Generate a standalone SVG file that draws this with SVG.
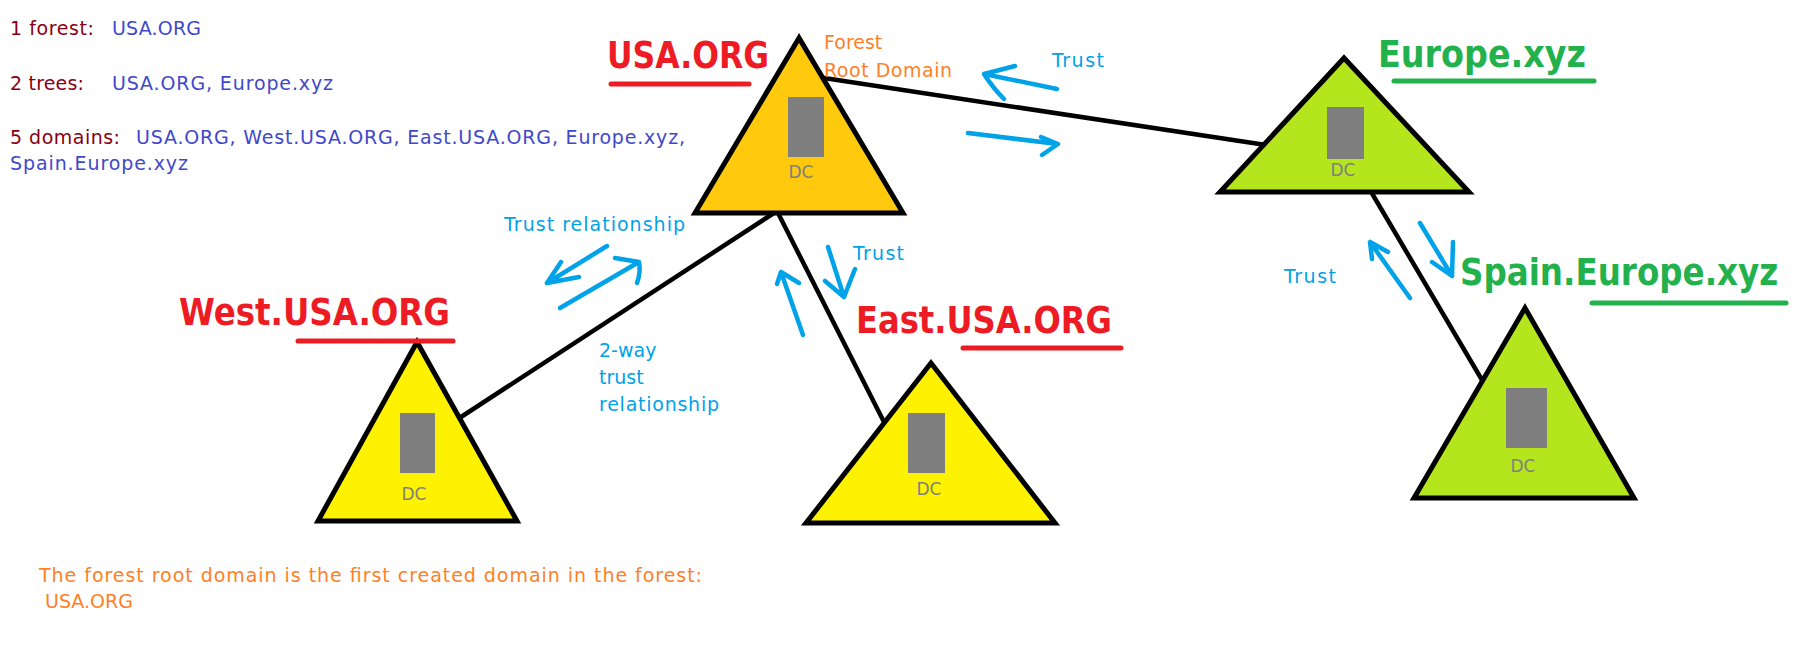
<svg xmlns="http://www.w3.org/2000/svg" width="1806" height="659" viewBox="0 0 1806 659">
<style>
.tri{stroke:#000;stroke-width:5;stroke-linejoin:miter}
.usa{fill:#ffc90e}.yel{fill:#fff200}.lime{fill:#b5e61d}
.dcbox{fill:#7f7f7f}
.dc{font-family:"DejaVu Sans",sans-serif;font-size:17px;fill:#7f7f7f;text-anchor:middle}
.t{font-family:"DejaVu Sans",sans-serif;font-size:19px}
.dred{fill:#880015}.ind{fill:#3f48cc}.org{fill:#ff7f27}.lb{fill:#00a2e8}
.big{font-family:"DejaVu Sans",sans-serif;font-weight:bold;font-size:37px}
.red{fill:#ed1c24}.grn{fill:#22b14c}
.ul{stroke-width:5;stroke-linecap:round;fill:none}
.conn{stroke:#000;stroke-width:4.5;fill:none;stroke-linecap:round}
.arr{stroke:#00a2e8;stroke-width:4.5;fill:none;stroke-linecap:round;stroke-linejoin:round}
</style>
<rect width="1806" height="659" fill="#fff"/>

<g id="legend">
<text class="t dred" x="10" y="35" textLength="84">1 forest:</text>
<text class="t ind" x="112" y="35" textLength="89">USA.ORG</text>
<text class="t dred" x="10" y="90" textLength="74">2 trees:</text>
<text class="t ind" x="112" y="90" textLength="221">USA.ORG, Europe.xyz</text>
<text class="t dred" x="10" y="144" textLength="110">5 domains:</text>
<text class="t ind" x="136" y="144" textLength="549">USA.ORG, West.USA.ORG, East.USA.ORG, Europe.xyz,</text>
<text class="t ind" x="10" y="170" textLength="178">Spain.Europe.xyz</text>
</g>

<g id="connectors">
<line class="conn" x1="824" y1="78" x2="1266" y2="145"/>
<line class="conn" x1="777" y1="211" x2="461" y2="417"/>
<line class="conn" x1="777" y1="211" x2="884" y2="422"/>
<line class="conn" x1="1370" y1="190" x2="1482" y2="380"/>
</g>

<g id="node-usa">
<polygon class="tri usa" points="799,38 695,213 903,213"/>
<rect class="dcbox" x="788" y="97" width="36" height="60"/>
<text class="dc" x="801" y="178">DC</text>
<text class="big red" x="607" y="68" textLength="162" lengthAdjust="spacingAndGlyphs">USA.ORG</text>
<line class="ul" stroke="#ed1c24" x1="611" y1="84" x2="749" y2="84"/>
<text class="t org" x="824" y="49">Forest</text>
<text class="t org" x="824" y="77" textLength="128">Root Domain</text>
</g>

<g id="node-europe">
<polygon class="tri lime" points="1344,58 1220,192 1469,192"/>
<rect class="dcbox" x="1327" y="107" width="37" height="52"/>
<text class="dc" x="1343" y="176">DC</text>
<text class="big grn" x="1378" y="67" textLength="208" lengthAdjust="spacingAndGlyphs">Europe.xyz</text>
<line class="ul" stroke="#22b14c" x1="1394" y1="81" x2="1594" y2="81"/>
</g>

<g id="node-west">
<polygon class="tri yel" points="417,342 318,521 517,521"/>
<rect class="dcbox" x="400" y="413" width="35" height="60"/>
<text class="dc" x="414" y="500">DC</text>
<text class="big red" x="179" y="325" textLength="271" lengthAdjust="spacingAndGlyphs">West.USA.ORG</text>
<line class="ul" stroke="#ed1c24" x1="298" y1="341" x2="453" y2="341"/>
</g>

<g id="node-east">
<polygon class="tri yel" points="931,363 806,523 1055,523"/>
<rect class="dcbox" x="908" y="413" width="37" height="60"/>
<text class="dc" x="929" y="495">DC</text>
<text class="big red" x="856" y="333" textLength="256" lengthAdjust="spacingAndGlyphs">East.USA.ORG</text>
<line class="ul" stroke="#ed1c24" x1="963" y1="348" x2="1121" y2="348"/>
</g>

<g id="node-spain">
<polygon class="tri lime" points="1525,308 1414,498 1634,498"/>
<rect class="dcbox" x="1506" y="388" width="41" height="60"/>
<text class="dc" x="1523" y="472">DC</text>
<text class="big grn" transform="translate(1460,285) scale(0.88,1)" x="0" y="0">Spain.Europe.xyz</text>
<line class="ul" stroke="#22b14c" x1="1592" y1="303" x2="1786" y2="303"/>
</g>

<g id="trust-arrows">
<path class="arr" d="M1057,89 L984,74 M1015,66 L984,74 Q993,88 1004,99"/>
<path class="arr" d="M968,133 L1058,144 M1041,137 L1058,144 L1042,155"/>
<text class="t lb" x="1052" y="67" textLength="52">Trust</text>

<path class="arr" d="M607,246 L547,283 M561,262 L547,283 L579,277"/>
<path class="arr" d="M560,308 L639,262 M615,258 L639,262 Q641,272 637,283"/>
<text class="t lb" x="504" y="231" textLength="181">Trust relationship</text>
<text class="t lb" x="599" y="357">2-way</text>
<text class="t lb" x="599" y="384">trust</text>
<text class="t lb" x="599" y="411" textLength="120">relationship</text>

<path class="arr" d="M803,335 L781,272 M777,284 L781,272 L799,283"/>
<path class="arr" d="M828,247 L844,297 M825,281 L844,297 L855,269"/>
<text class="t lb" x="853" y="260" textLength="51">Trust</text>

<path class="arr" d="M1410,298 L1370,242 M1372,259 L1370,242 L1388,252"/>
<path class="arr" d="M1420,223 L1452,276 M1453,242 L1452,276 L1432,262"/>
<text class="t lb" x="1284" y="283" textLength="52">Trust</text>
</g>

<g id="footer">
<text class="t org" x="39" y="582" textLength="663">The forest root domain is the first created domain in the forest:</text>
<text class="t org" x="45" y="608" textLength="88">USA.ORG</text>
</g>
</svg>
